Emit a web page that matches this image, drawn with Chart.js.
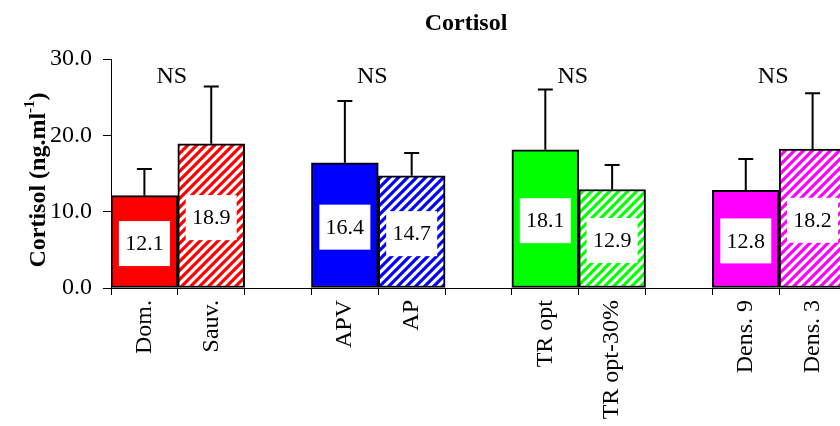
<!DOCTYPE html>
<html>
<head>
<meta charset="utf-8">
<script src="https://cdn.jsdelivr.net/npm/chart.js@4/dist/chart.umd.min.js"></script>
<style>
  html, body { margin: 0; padding: 0; background: #fff; overflow: hidden; }
  #wrap { width: 850px; height: 426px; }
</style>
</head>
<body>
<div id="wrap"><canvas id="chart" width="850" height="426"></canvas></div>
<script>
// categories (empty slots are the gaps between groups)
const categories = ['Dom.', 'Sauv.', '', 'APV', 'AP', '', 'TR opt', 'TR opt-30%', '', 'Dens. 9', 'Dens. 3'];
const means = [12.1, 18.9, null, 16.4, 14.7, null, 18.1, 12.9, null, 12.8, 18.2];
const sds = [3.5, 7.5, null, 8.1, 3.0, null, 7.9, 3.2, null, 4.1, 7.3];
const barColors = ['#ff0000', '#ff0000', null, '#0000ff', '#0000ff', null, '#00ff00', '#00ff00', null, '#ff00ff', '#ff00ff'];
const hatched = [false, true, false, false, true, false, false, true, false, false, true];
const groupStarts = [0, 3, 6, 9];
const groupNotes = ['NS', 'NS', 'NS', 'NS'];
const yTicks = [0, 10, 20, 30];

const SERIF = '"Liberation Serif", "Times New Roman", serif';

const ctxMain = document.getElementById('chart').getContext('2d');

// diagonal stripes on white for the hatched bars
const makeHatch = (color) => {
  const size = 9;
  const c = document.createElement('canvas');
  c.width = size;
  c.height = size;
  const g = c.getContext('2d');
  g.fillStyle = '#fff';
  g.fillRect(0, 0, size, size);
  g.strokeStyle = color;
  g.lineWidth = 3.2;
  g.beginPath();
  g.moveTo(-1, size + 1); g.lineTo(size + 1, -1);
  g.moveTo(-3, 3); g.lineTo(3, -3);
  g.moveTo(size - 3, size + 3); g.lineTo(size + 3, size - 3);
  g.stroke();
  return ctxMain.createPattern(c, 'repeat');
};

const fillFor = barColors.map((col, i) => {
  if (!col) return 'rgba(0,0,0,0)';
  return hatched[i] ? makeHatch(col) : col;
});

const annotate = {
  id: 'annotate',
  afterDatasetsDraw(chart) {
    const {ctx, scales: {x, y}} = chart;
    const meta = chart.getDatasetMeta(0);
    ctx.save();

    // error bars (upper only) and value boxes
    meta.data.forEach((bar, i) => {
      if (means[i] === null) return;
      const top = y.getPixelForValue(means[i] + sds[i]);
      ctx.strokeStyle = '#000';
      ctx.lineWidth = 2;
      ctx.beginPath();
      ctx.moveTo(bar.x, bar.y);
      ctx.lineTo(bar.x, top);
      ctx.moveTo(bar.x - 7.5, top);
      ctx.lineTo(bar.x + 7.5, top);
      ctx.stroke();

      const cy = (bar.y + bar.base) / 2 + 2;
      ctx.fillStyle = '#fff';
      ctx.fillRect(bar.x - 25.5, cy - 22.5, 51, 45);
      ctx.fillStyle = '#000';
      ctx.font = '22px ' + SERIF;
      ctx.textAlign = 'center';
      ctx.textBaseline = 'middle';
      ctx.fillText(means[i].toFixed(1), bar.x, cy + 1);
    });

    // NS notes above each group
    ctx.font = '24px ' + SERIF;
    ctx.textAlign = 'center';
    ctx.textBaseline = 'alphabetic';
    groupStarts.forEach((start, k) => {
      ctx.fillText(groupNotes[k], x.getPixelForValue(start + 0.5) - 6, 83);
    });

    // chart title
    ctx.font = 'bold 24px ' + SERIF;
    ctx.fillText('Cortisol', 466, 30);

    // y axis title with superscript
    ctx.translate(45, 180);
    ctx.rotate(-Math.PI / 2);
    ctx.textAlign = 'left';
    const mainFont = 'bold 24px ' + SERIF;
    const supFont = 'bold 15px ' + SERIF;
    ctx.font = mainFont;
    const w1 = ctx.measureText('Cortisol (ng.ml').width;
    const w3 = ctx.measureText(')').width;
    ctx.font = supFont;
    const w2 = ctx.measureText('-1').width;
    let px = -(w1 + w2 + w3) / 2;
    ctx.font = mainFont;
    ctx.fillText('Cortisol (ng.ml', px, 0);
    px += w1;
    ctx.font = supFont;
    ctx.fillText('-1', px, -11);
    px += w2;
    ctx.font = mainFont;
    ctx.fillText(')', px, 0);

    ctx.restore();
  }
};

Chart.defaults.font.family = SERIF;
Chart.defaults.color = '#000';

new Chart(ctxMain, {
  type: 'bar',
  data: {
    labels: categories,
    datasets: [{
      data: means,
      backgroundColor: fillFor,
      borderColor: '#000',
      borderWidth: 2,
      borderSkipped: false,
      barPercentage: 1,
      categoryPercentage: 1
    }]
  },
  options: {
    responsive: false,
    animation: false,
    layout: { padding: { top: 59, right: 4, left: 0, bottom: 0 } },
    plugins: {
      legend: { display: false },
      title: { display: false },
      tooltip: { enabled: false }
    },
    events: [],
    scales: {
      x: {
        offset: true,
        grid: { display: true, offset: true, drawOnChartArea: false, tickLength: 7, color: '#000' },
        border: { display: true, color: '#000', width: 1 },
        ticks: {
          autoSkip: false,
          minRotation: 90,
          maxRotation: 90,
          padding: 5,
          font: { size: 24 }
        },
        afterFit: (scale) => { scale.height = 138; }
      },
      y: {
        min: yTicks[0],
        max: yTicks[yTicks.length - 1],
        afterBuildTicks: (scale) => { scale.ticks = yTicks.map((v) => ({ value: v })); },
        grid: { display: true, drawOnChartArea: false, tickLength: 8, color: '#000' },
        border: { display: true, color: '#000', width: 1 },
        ticks: {
          padding: 11,
          font: { size: 24 },
          callback: (v) => Number(v).toFixed(1)
        },
        afterFit: (scale) => { scale.width = 111; }
      }
    }
  },
  plugins: [annotate]
});
</script>
</body>
</html>
